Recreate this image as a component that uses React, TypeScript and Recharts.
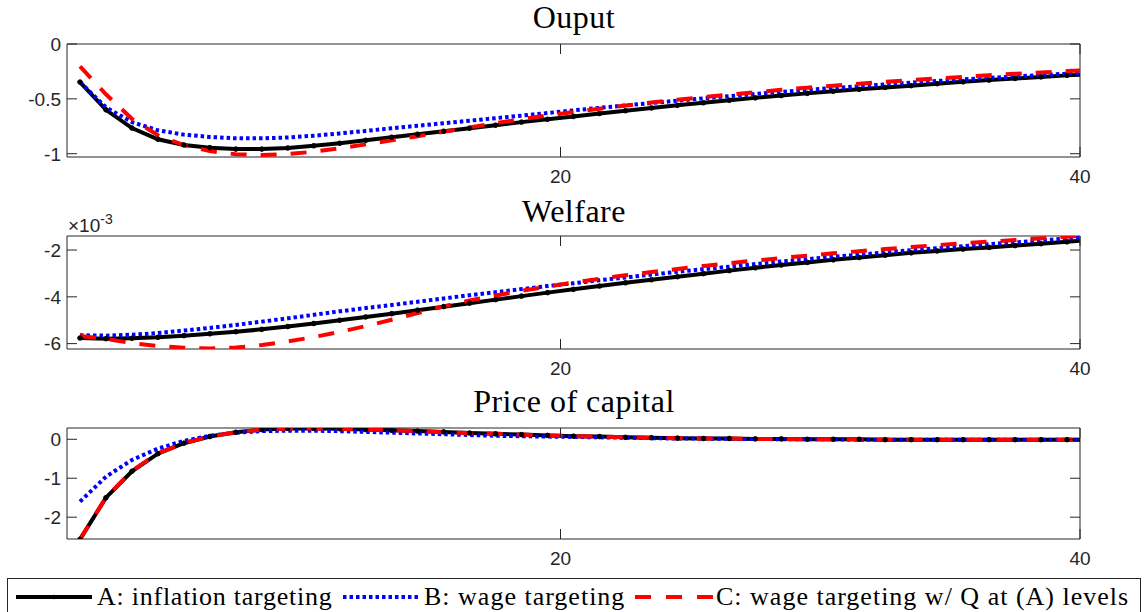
import { LineChart, Line, XAxis, YAxis, ReferenceArea } from 'recharts';

// periods (plotted at mid-period)
const periods = [1, 2, 3, 4, 5, 6, 7, 8, 9, 10, 11, 12, 13, 14, 15, 16, 17, 18, 19, 20,
  21, 22, 23, 24, 25, 26, 27, 28, 29, 30, 31, 32, 33, 34, 35, 36, 37, 38, 39, 40];

// Ouput
const outputA = [-0.347, -0.6, -0.766, -0.868, -0.92, -0.945, -0.958, -0.958, -0.948, -0.928,
  -0.905, -0.878, -0.85, -0.822, -0.795, -0.768, -0.74, -0.712, -0.686, -0.66,
  -0.634, -0.608, -0.583, -0.559, -0.536, -0.513, -0.491, -0.47, -0.45, -0.431,
  -0.413, -0.396, -0.38, -0.362, -0.345, -0.329, -0.314, -0.3, -0.286, -0.273];
const outputB = [-0.347, -0.577, -0.712, -0.787, -0.826, -0.847, -0.86, -0.86, -0.852, -0.836,
  -0.815, -0.792, -0.768, -0.745, -0.722, -0.699, -0.676, -0.653, -0.629, -0.605,
  -0.582, -0.56, -0.538, -0.517, -0.496, -0.476, -0.456, -0.437, -0.419, -0.401,
  -0.384, -0.368, -0.352, -0.337, -0.323, -0.309, -0.296, -0.283, -0.27, -0.258];
const outputC = [-0.204, -0.458, -0.682, -0.832, -0.922, -0.976, -1.005, -1.011, -1.003, -0.982,
  -0.95, -0.915, -0.878, -0.84, -0.8, -0.76, -0.722, -0.686, -0.652, -0.62,
  -0.59, -0.561, -0.534, -0.508, -0.484, -0.461, -0.439, -0.418, -0.398, -0.38,
  -0.362, -0.345, -0.329, -0.314, -0.299, -0.285, -0.272, -0.259, -0.247, -0.235];

// Welfare, in units of 1e-3
const welfareA = [-5.76, -5.79, -5.77, -5.73, -5.66, -5.58, -5.49, -5.39, -5.27, -5.14,
  -5.0, -4.86, -4.72, -4.57, -4.42, -4.27, -4.12, -3.97, -3.82, -3.68,
  -3.54, -3.4, -3.27, -3.14, -3.01, -2.88, -2.76, -2.64, -2.53, -2.42,
  -2.32, -2.22, -2.12, -2.04, -1.96, -1.89, -1.81, -1.73, -1.65, -1.56];
const welfareB = [-5.64, -5.66, -5.62, -5.55, -5.44, -5.33, -5.2, -5.06, -4.92, -4.77,
  -4.62, -4.48, -4.35, -4.21, -4.07, -3.93, -3.8, -3.67, -3.54, -3.42,
  -3.29, -3.17, -3.05, -2.93, -2.82, -2.71, -2.6, -2.49, -2.39, -2.29,
  -2.2, -2.1, -2.01, -1.92, -1.84, -1.75, -1.67, -1.59, -1.51, -1.43];
const welfareC = [-5.67, -5.8, -5.98, -6.1, -6.18, -6.21, -6.17, -6.06, -5.91, -5.72,
  -5.5, -5.25, -4.98, -4.69, -4.41, -4.16, -3.94, -3.74, -3.56, -3.39,
  -3.23, -3.08, -2.94, -2.81, -2.68, -2.56, -2.45, -2.34, -2.24, -2.14,
  -2.05, -1.96, -1.87, -1.79, -1.71, -1.64, -1.57, -1.5, -1.43, -1.36];

// Price of capital
const priceA = [-2.57, -1.5, -0.82, -0.37, -0.1, 0.07, 0.18, 0.25, 0.28, 0.28,
  0.27, 0.25, 0.23, 0.21, 0.19, 0.16, 0.14, 0.12, 0.1, 0.08,
  0.07, 0.05, 0.04, 0.03, 0.02, 0.02, 0.01, 0.01, 0.0, 0.0,
  0.0, -0.01, -0.01, -0.01, -0.01, -0.01, -0.01, -0.01, -0.01, -0.01];
const priceB = [-1.6, -0.96, -0.53, -0.24, -0.04, 0.09, 0.17, 0.21, 0.22, 0.22,
  0.21, 0.19, 0.17, 0.15, 0.13, 0.11, 0.09, 0.08, 0.07, 0.06,
  0.05, 0.04, 0.03, 0.02, 0.02, 0.01, 0.01, 0.0, 0.0, 0.0,
  -0.01, -0.01, -0.01, -0.01, -0.01, -0.01, -0.01, -0.01, -0.01, -0.01];
const priceC = [-2.57, -1.49, -0.81, -0.36, -0.1, 0.07, 0.18, 0.25, 0.28, 0.28,
  0.27, 0.25, 0.23, 0.21, 0.18, 0.16, 0.14, 0.12, 0.1, 0.08,
  0.07, 0.05, 0.04, 0.03, 0.02, 0.02, 0.01, 0.01, 0.0, 0.0,
  0.0, -0.01, -0.01, -0.01, -0.01, -0.01, -0.01, -0.01, -0.01, -0.01];

const xTicks = [20, 40];
const legendLabels = ['A: inflation targeting', 'B: wage targeting', 'C: wage targeting w/ Q at (A) levels'];

const AXIS = '#262626';
const SANS = '"Liberation Sans", Arial, Helvetica, sans-serif';
const SERIF = '"Liberation Serif", "Times New Roman", serif';
const LEFT = 67;
const RIGHT = 1080;
const W = 1148;
const TICK_FONT = 19;

const rows = (a: number[], b: number[], c: number[]) =>
  periods.map((p, i) => ({ t: p + 0.5, a: a[i], b: b[i], c: c[i] }));

type PanelProps = {
  top: number;
  height: number;
  mTop: number;
  mBottom: number;
  domain: [number, number];
  yTicks: number[];
  data: { t: number; a: number; b: number; c: number }[];
};

function Panel({ top, height, mTop, mBottom, domain, yTicks, data }: PanelProps) {
  const plotTop = mTop;

  const yTick = (props: any) => {
    const { x, y, payload } = props;
    return (
      <g>
        <line x1={x} x2={x + 10} y1={y} y2={y} stroke={AXIS} strokeWidth={1} />
        <line x1={RIGHT - 10} x2={RIGHT} y1={y} y2={y} stroke={AXIS} strokeWidth={1} />
        <text x={x - 6} y={y} dy="0.36em" textAnchor="end" fontSize={TICK_FONT} fill={AXIS} fontFamily={SANS}>
          {payload.value}
        </text>
      </g>
    );
  };

  const xTick = (props: any) => {
    const { x, y, payload } = props;
    return (
      <g>
        <line x1={x} x2={x} y1={y} y2={y - 10} stroke={AXIS} strokeWidth={1} />
        <line x1={x} x2={x} y1={plotTop} y2={plotTop + 10} stroke={AXIS} strokeWidth={1} />
        <text x={x} y={y + 26} textAnchor="middle" fontSize={TICK_FONT} fill={AXIS} fontFamily={SANS}>
          {payload.value}
        </text>
      </g>
    );
  };

  return (
    <div style={{ position: 'absolute', left: 0, top, width: W, height }}>
      <LineChart width={W} height={height} data={data}
        margin={{ top: mTop, right: W - RIGHT, bottom: mBottom, left: 0 }}>
        <XAxis dataKey="t" type="number" domain={[1, 40]} ticks={xTicks} allowDataOverflow
          height={25} tickSize={0} tickMargin={0} tick={xTick} axisLine={false} tickLine={false} />
        <YAxis type="number" domain={domain} ticks={yTicks} allowDataOverflow width={LEFT}
          tickSize={0} tickMargin={0} tick={yTick} axisLine={false} tickLine={false} />
        <ReferenceArea x1={1} x2={40} y1={domain[0]} y2={domain[1]} fill="none" stroke={AXIS} strokeWidth={1} />
        <Line type="linear" dataKey="a" stroke="#000000" strokeWidth={4} isAnimationActive={false}
          dot={{ r: 2.3, fill: '#000', stroke: '#000', strokeWidth: 1 }} />
        <Line type="linear" dataKey="b" stroke="#0000ff" strokeWidth={4} strokeDasharray="3.5 3"
          dot={false} isAnimationActive={false} />
        <Line type="linear" dataKey="c" stroke="#ff0000" strokeWidth={4} strokeDasharray="16 14"
          dot={false} isAnimationActive={false} />
      </LineChart>
    </div>
  );
}

export default function App() {
  return (
    <div style={{ position: 'fixed', left: 0, top: 0, width: W, height: 612, background: '#fff', overflow: 'hidden' }}>
      <Panel top={0} height={190} mTop={44} mBottom={8} domain={[-1.03, 0]} yTicks={[-1, -0.5, 0]}
        data={rows(outputA, outputB, outputC)} />
      <Panel top={200} height={180} mTop={36} mBottom={6} domain={[-6.23, -1.4]} yTicks={[-6, -4, -2]}
        data={rows(welfareA, welfareB, welfareC)} />
      <Panel top={380} height={190} mTop={48} mBottom={6} domain={[-2.56, 0.29]} yTicks={[-2, -1, 0]}
        data={rows(priceA, priceB, priceC)} />

      <svg width={W} height={612} style={{ position: 'absolute', left: 0, top: 0, pointerEvents: 'none' }}>
        <g fontFamily={SERIF} fontSize={32} fill="#000" textAnchor="middle" letterSpacing={0.5}>
          <text x={574} y={28}>Ouput</text>
          <text x={574} y={222}>Welfare</text>
          <text x={574} y={412}>Price of capital</text>
        </g>
        <text x={68} y={232} fontFamily={SANS} fontSize={19} fill={AXIS}>
          ×10<tspan dy={-8} fontSize={14}>-3</tspan>
        </text>

        {/* legend */}
        <rect x={7.5} y={578.5} width={1133} height={40} fill="#fff" stroke={AXIS} strokeWidth={1} />
        <line x1={16} x2={92} y1={597} y2={597} stroke="#000" strokeWidth={4} />
        <circle cx={54} cy={597} r={2.3} fill="#000" />
        <line x1={343} x2={418} y1={597} y2={597} stroke="#0000ff" strokeWidth={4} strokeDasharray="3.5 3" />
        <line x1={635} x2={714} y1={597} y2={597} stroke="#ff0000" strokeWidth={4} strokeDasharray="16 15" />
        <g fontFamily={SERIF} fontSize={26} fill="#000">
          <text x={97} y={605} letterSpacing={0.75}>{legendLabels[0]}</text>
          <text x={424} y={605} letterSpacing={1.0}>{legendLabels[1]}</text>
          <text x={716} y={605} letterSpacing={1.0}>{legendLabels[2]}</text>
        </g>
      </svg>
    </div>
  );
}
